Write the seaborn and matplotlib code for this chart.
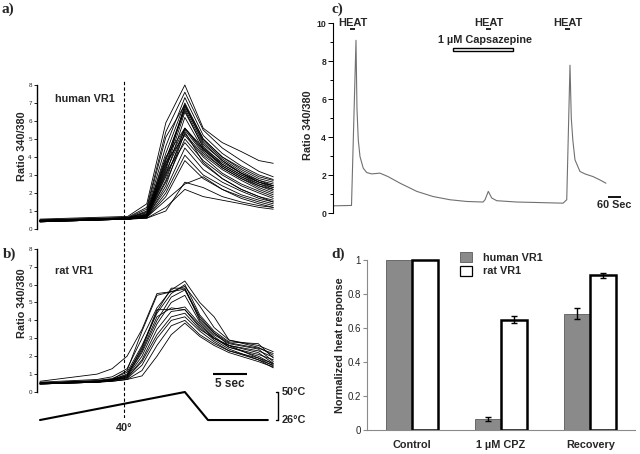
import numpy as np
import pandas as pd
import matplotlib
matplotlib.use("Agg")
import matplotlib.pyplot as plt
from matplotlib.patches import Rectangle, Patch
import seaborn as sns

# ---------------- data ----------------
# panel a: human VR1 single-cell traces (time in s, ratio 340/380)
human_times = [0, 12.9, 15.7, 18.5, 21.3, 24.0, 26.8, 29.6, 32.2, 34.3]
human_traces = [
    [0.55, 0.70, 1.40, 5.9, 8.0, 5.6, 4.8, 4.3, 3.8, 3.65],
    [0.50, 0.65, 1.20, 5.4, 7.6, 5.5, 4.5, 3.8, 3.2, 2.9],
    [0.45, 0.60, 1.00, 4.6, 7.3, 5.2, 4.2, 3.5, 3.0, 2.75],
    [0.45, 0.62, 0.90, 4.2, 7.0, 5.0, 4.0, 3.3, 2.8, 2.6],
    [0.50, 0.60, 0.85, 3.8, 6.8, 4.9, 3.9, 3.2, 2.7, 2.5],
    [0.45, 0.58, 0.80, 3.6, 6.7, 4.7, 3.8, 3.1, 2.7, 2.4],
    [0.45, 0.60, 0.75, 3.3, 6.5, 4.6, 3.6, 3.0, 2.6, 2.3],
    [0.45, 0.55, 0.80, 3.9, 6.6, 4.5, 3.5, 2.9, 2.5, 2.2],
    [0.40, 0.55, 0.70, 3.0, 6.2, 4.4, 3.5, 2.9, 2.4, 2.2],
    [0.45, 0.58, 0.75, 3.5, 5.6, 4.4, 3.6, 3.0, 2.5, 2.3],
    [0.45, 0.55, 0.70, 3.2, 5.5, 4.2, 3.4, 2.8, 2.3, 2.0],
    [0.40, 0.55, 0.70, 2.9, 5.3, 4.1, 3.3, 2.7, 2.2, 1.9],
    [0.45, 0.58, 0.80, 3.7, 5.2, 4.0, 3.1, 2.5, 2.1, 1.8],
    [0.45, 0.55, 0.70, 2.6, 5.0, 3.8, 3.0, 2.4, 2.0, 1.7],
    [0.40, 0.55, 0.65, 2.4, 5.4, 3.7, 2.8, 2.2, 1.8, 1.6],
    [0.45, 0.55, 0.70, 2.2, 4.5, 3.3, 2.6, 2.1, 1.7, 1.5],
    [0.45, 0.56, 0.65, 2.0, 4.1, 3.0, 2.4, 1.9, 1.6, 1.4],
    [0.40, 0.55, 0.65, 1.8, 3.8, 2.8, 2.2, 1.8, 1.5, 1.3],
    [0.45, 0.55, 0.60, 1.0, 2.6, 2.3, 1.8, 1.5, 1.3, 1.2],
    [0.45, 0.55, 0.60, 1.2, 2.2, 1.8, 1.6, 1.4, 1.2, 1.1],
    [0.50, 0.62, 1.10, 5.1, 6.9, 5.0, 4.0, 3.4, 2.9, 2.7],
    [0.45, 0.60, 0.95, 4.0, 5.6, 4.5, 3.7, 3.1, 2.6, 2.4],
    [0.45, 0.55, 0.65, 1.6, 2.5, 2.9, 2.2, 1.7, 1.4, 1.2],
    [0.45, 0.58, 0.75, 3.4, 6.9, 4.8, 3.8, 3.1, 2.6, 2.4],
    [0.40, 0.55, 0.70, 2.7, 5.6, 4.3, 3.4, 2.8, 2.4, 2.1],
    [0.45, 0.56, 0.75, 3.1, 4.8, 3.6, 2.8, 2.2, 1.8, 1.5],
]

# panel b: rat VR1 single-cell traces
rat_times = [0, 8.4, 10.6, 12.8, 15.0, 17.2, 19.3, 21.3, 23.5, 25.6, 27.8, 32.1, 34.3]
rat_traces = [
    [0.60, 1.00, 1.30, 2.00, 3.50, 5.50, 5.60, 5.90, 4.80, 3.60, 2.90, 2.60, 2.25],
    [0.55, 0.70, 0.85, 1.30, 3.00, 4.70, 5.70, 6.20, 5.00, 4.20, 2.90, 2.50, 2.05],
    [0.50, 0.65, 0.75, 1.10, 2.60, 4.40, 5.50, 6.00, 4.30, 3.40, 2.80, 2.70, 1.90],
    [0.50, 0.60, 0.70, 1.00, 2.40, 4.50, 5.80, 5.80, 4.00, 3.20, 2.70, 2.40, 1.70],
    [0.50, 0.60, 0.70, 0.90, 2.20, 4.00, 5.30, 5.70, 4.10, 3.30, 2.60, 2.20, 1.60],
    [0.45, 0.55, 0.65, 0.85, 2.00, 3.80, 5.00, 5.40, 3.90, 3.10, 2.50, 2.00, 1.55],
    [0.50, 0.60, 0.70, 0.95, 2.50, 4.60, 4.60, 4.75, 3.80, 3.00, 2.60, 1.90, 1.45],
    [0.45, 0.55, 0.65, 0.80, 1.80, 3.50, 4.50, 4.60, 3.60, 2.90, 2.40, 1.80, 1.35],
    [0.50, 0.60, 0.70, 0.80, 1.70, 3.20, 4.20, 4.40, 3.50, 3.00, 2.50, 2.10, 1.80],
    [0.45, 0.55, 0.65, 0.75, 1.50, 3.00, 4.00, 4.20, 3.40, 2.80, 2.30, 1.90, 1.60],
    [0.45, 0.55, 0.60, 0.70, 1.20, 2.60, 3.70, 4.00, 3.20, 2.70, 2.30, 1.80, 1.50],
    [0.45, 0.55, 0.60, 0.70, 0.90, 2.00, 3.20, 3.85, 3.10, 2.60, 2.20, 1.70, 1.40],
    [0.50, 0.60, 0.70, 1.20, 3.40, 5.40, 5.60, 5.75, 4.20, 3.30, 2.75, 2.45, 2.15],
    [0.50, 0.55, 0.65, 0.90, 2.30, 4.20, 4.70, 4.60, 3.70, 3.00, 2.60, 2.30, 1.95],
]

# temperature ramp under panel b
temp_times = [0, 21.3, 24.7, 33.5]
temp_values = [26, 50, 26, 26]
temp_marks = [50, 26]
scale_bar_sec = 5

# panel c: single human VR1 cell, repeated heat with capsazepine
capz_times = [0, 80.8, 101.5, 106, 112, 120, 135, 151, 174, 212, 249, 305, 382, 457,
              535, 612, 688, 697, 712, 728, 751, 843, 918, 1057, 1074, 1089, 1095,
              1102, 1112, 1135, 1158, 1195, 1226, 1255]
capz_ratio = [0.38, 0.40, 9.09, 5.50, 3.85, 2.97, 2.36, 2.13, 2.06, 2.10, 1.92, 1.57,
              1.14, 0.87, 0.70, 0.61, 0.58, 0.70, 1.14, 0.79, 0.65, 0.58, 0.56, 0.52,
              0.70, 7.78, 5.00, 3.85, 2.80, 2.19, 2.06, 1.92, 1.75, 1.57]
heat_start = [72, 700, 1066]
heat_end = [97, 723, 1089]
capz_window = [549, 826]
scale_bar_c = 60

# panel d: normalized heat response
conditions = ["Control", "1 µM CPZ", "Recovery"]
human_mean = [1.0, 0.065, 0.685]
human_sem = [0.0, 0.010, 0.030]
rat_mean = [1.0, 0.65, 0.91]
rat_sem = [0.0, 0.020, 0.015]

# ---------------- style ----------------
sns.set_theme(style="white")
plt.rcParams['font.family'] = ['Liberation Sans', 'DejaVu Sans']
plt.rcParams['axes.linewidth'] = 0.8

W, H = 640, 454
fig = plt.figure(figsize=(6.4, 4.54), dpi=100)


def ax_px(x0, y0, x1, y1):
    return fig.add_axes([x0 / W, 1 - y1 / H, (x1 - x0) / W, (y1 - y0) / H])


def ftext(x, y, s, **kw):
    fig.text(x / W, 1 - y / H, s, **kw)


def long_df(times, traces):
    rows = [(i, t, v) for i, tr in enumerate(traces) for t, v in zip(times, tr)]
    return pd.DataFrame(rows, columns=["cell", "t", "ratio"])


XL = (-0.44, 36.76)


def trace_axes(ax):
    ax.set_xlim(*XL)
    ax.set_ylim(-0.2, 8.3)
    for s in ["top", "right", "bottom"]:
        ax.spines[s].set_visible(False)
    ax.spines["left"].set_bounds(0, 8)
    ax.spines["left"].set_color("black")
    ax.spines["left"].set_linewidth(1.0)
    ax.set_yticks(range(0, 9))
    ax.set_xticks([])
    ax.tick_params(axis="y", left=True, length=2.5, width=0.6, pad=1.2,
                   labelsize=4.5, color="black")
    ax.set_xlabel("")
    ax.set_ylabel("")


# ---- panel a ----
ax_a = ax_px(37, 79.6, 290, 232.6)
sns.lineplot(data=long_df(human_times, human_traces), x="t", y="ratio", units="cell",
             estimator=None, color="black", lw=0.6, ax=ax_a, legend=False)
trace_axes(ax_a)
ax_a.text(0.07, 0.87, "human VR1", transform=ax_a.transAxes, fontsize=7.8,
          fontweight="bold", va="center")
ftext(22, 146, "Ratio 340/380", rotation=90, ha="center", va="center",
      fontsize=7.8, fontweight="bold")

# ---- panel b ----
ax_b = ax_px(37, 243.4, 290, 395.6)
sns.lineplot(data=long_df(rat_times, rat_traces), x="t", y="ratio", units="cell",
             estimator=None, color="black", lw=0.6, ax=ax_b, legend=False)
trace_axes(ax_b)
ax_b.text(0.07, 0.82, "rat VR1", transform=ax_b.transAxes, fontsize=7.8,
          fontweight="bold", va="center")
ftext(22, 303, "Ratio 340/380", rotation=90, ha="center", va="center",
      fontsize=7.8, fontweight="bold")
# 5 sec scale bar
sb0 = 25.4
ax_b.plot([sb0, sb0 + scale_bar_sec], [1.0, 1.0], color="black", lw=1.5,
          solid_capstyle="butt")
ax_b.text(sb0 + scale_bar_sec / 2, 0.45, f"{scale_bar_sec} sec", ha="center",
          va="center", fontsize=8.5, fontweight="bold")

# ---- temperature trace ----
ax_t = ax_px(37, 385, 290, 424.7)
sns.lineplot(x=temp_times, y=temp_values, color="black", lw=1.5, ax=ax_t,
             sort=False, legend=False)
ax_t.set_xlim(*XL)
ax_t.set_ylim(22, 56)
ax_t.axis("off")
xb = 35.0
ax_t.plot([xb, xb], [temp_marks[1], temp_marks[0]], color="black", lw=1.0)
for tv in temp_marks:
    ax_t.plot([xb - 0.35, xb], [tv, tv], color="black", lw=1.0)
    ax_t.text(xb + 0.6, tv, f"{tv}°C", ha="left", va="center", fontsize=7.8,
              fontweight="bold")
t40 = float(np.interp(40, temp_values[:2], temp_times[:2]))
ax_t.text(t40, 19.0, "40°", ha="center", va="center", fontsize=7.8,
          fontweight="bold")

# dashed 40° line across panels a and b
ax_o = ax_px(37, 80, 290, 418)
ax_o.set_xlim(*XL)
ax_o.set_ylim(0, 1)
ax_o.axis("off")
ax_o.patch.set_visible(False)
ax_o.axvline(t40, color="black", lw=0.8, ls=(0, (3, 2)))

# ---- panel c ----
ax_c = ax_px(333, 17.3, 635, 215.9)
sns.lineplot(x=capz_times, y=capz_ratio, color="#707070", lw=0.8, ax=ax_c,
             legend=False)
ax_c.set_xlim(-4.6, 1389)
ax_c.set_ylim(-0.15, 10.3)
for s in ["top", "right", "bottom"]:
    ax_c.spines[s].set_visible(False)
ax_c.spines["left"].set_bounds(0, 10)
ax_c.spines["left"].set_color("black")
ax_c.set_yticks(range(0, 11, 2))
ax_c.set_yticks(range(1, 11, 2), minor=True)
ax_c.set_xticks([])
ax_c.tick_params(axis="y", which="major", left=True, length=3.5, width=0.7,
                 pad=1.5, labelsize=6.2, color="black")
ax_c.tick_params(axis="y", which="minor", left=True, length=2.2, width=0.7,
                 color="black")
for lbl in ax_c.get_yticklabels():
    lbl.set_fontweight("bold")
ax_c.set_ylabel("")
ftext(308, 125, "Ratio 340/380", rotation=90, ha="center", va="center",
      fontsize=7.8, fontweight="bold")
for hs, he in zip(heat_start, heat_end):
    ax_c.text((hs + he) / 2 + 2, 10.0, "HEAT", ha="center", va="center",
              fontsize=8, fontweight="bold")
    ax_c.plot([hs, he], [9.67, 9.67], color="black", lw=1.2, clip_on=False,
              solid_capstyle="butt")
ax_c.add_patch(Rectangle((capz_window[0], 8.53), capz_window[1] - capz_window[0],
                         0.16, facecolor="white", edgecolor="black", lw=1.0,
                         clip_on=False))
ax_c.text(sum(capz_window) / 2 + 8, 9.08, "1 µM Capsazepine", ha="center",
          va="center", fontsize=7.8, fontweight="bold")
ax_c.plot([1265, 1265 + scale_bar_c], [0.84, 0.84], color="black", lw=1.3,
          solid_capstyle="butt", clip_on=False)
ax_c.text(1265 + scale_bar_c / 2, 0.40, f"{scale_bar_c} Sec", ha="center",
          va="center", fontsize=7.8, fontweight="bold")

# ---- panel d ----
ax_d = ax_px(367, 251.5, 635, 430)
df_bar = pd.DataFrame({
    "condition": conditions * 2,
    "response": human_mean + rat_mean,
    "receptor": ["human VR1"] * 3 + ["rat VR1"] * 3,
})
sns.barplot(data=df_bar, x="condition", y="response", hue="receptor",
            order=conditions, hue_order=["human VR1", "rat VR1"],
            palette={"human VR1": "#8a8a8a", "rat VR1": "white"},
            width=0.58, errorbar=None, ax=ax_d, legend=False)
ax_d.set_xlim(-0.5, 2.5)
ax_d.set_ylim(0, 1.05)
sems = [human_sem, rat_sem]
bar_conts = list(ax_d.containers)
for k, cont in enumerate(bar_conts):
    for bar, sem in zip(cont, sems[k]):
        if k == 0:
            bar.set_edgecolor("#5a5a5a")
            bar.set_linewidth(0.6)
        else:
            bar.set_edgecolor("black")
            bar.set_linewidth(1.8)
        if sem > 0:
            ax_d.errorbar(bar.get_x() + bar.get_width() / 2, bar.get_height(),
                          yerr=sem, color="black", lw=1.0, capsize=2.2,
                          capthick=1.0, zorder=5)
for s in ["top", "right"]:
    ax_d.spines[s].set_visible(False)
for s in ["left", "bottom"]:
    ax_d.spines[s].set_color("#8a8a8a")
    ax_d.spines[s].set_linewidth(0.8)
ax_d.spines["left"].set_bounds(0, 1)
ax_d.set_yticks([0, 0.2, 0.4, 0.6, 0.8, 1.0])
ax_d.set_yticklabels(["0", "0.2", "0.4", "0.6", "0.8", "1"])
ax_d.tick_params(axis="y", left=True, length=3, width=0.8, color="#8a8a8a",
                 pad=1.5, labelsize=7)
ax_d.tick_params(axis="x", bottom=False, length=0, pad=7, labelsize=7.8)
for lbl in ax_d.get_xticklabels():
    lbl.set_fontweight("bold")
ax_d.set_xlabel("")
ax_d.set_ylabel("")
ftext(340, 345, "Normalized heat response", rotation=90, ha="center",
      va="center", fontsize=7.8, fontweight="bold")
handles = [Patch(facecolor="#8a8a8a", edgecolor="#5a5a5a", lw=0.6),
           Patch(facecolor="white", edgecolor="black", lw=0.9)]
fig.legend(handles, ["human VR1", "rat VR1"], loc="upper left",
           bbox_to_anchor=(460 / W, 1 - 252 / H), frameon=False,
           prop={"weight": "bold", "size": 7.8}, handlelength=1.1,
           handleheight=1.1, handletextpad=1.0, labelspacing=0.25,
           borderpad=0, borderaxespad=0)

# ---- panel letters ----
for x, y, s in [(2, 9, "a)"), (3, 254, "b)"), (331, 9, "c)"), (331, 254, "d)")]:
    ftext(x, y, s, ha="left", va="center", fontsize=11, fontweight="bold",
          family=["Liberation Serif", "DejaVu Serif"])

fig.savefig("out.png", dpi=100, facecolor="white")
